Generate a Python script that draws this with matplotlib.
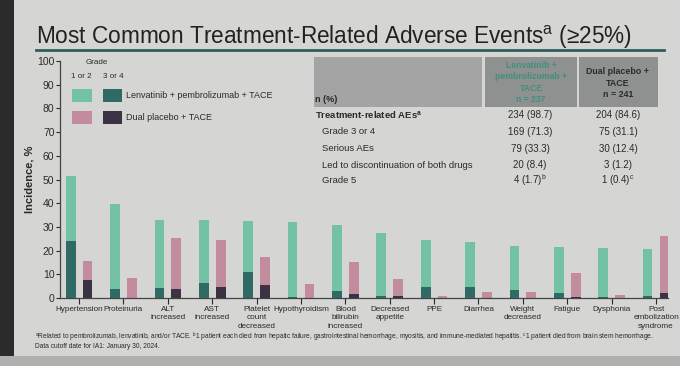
import matplotlib
matplotlib.use("Agg")
import matplotlib.pyplot as plt
import numpy as np
from matplotlib.patches import Rectangle

plt.rcParams['font.family'] = ['Liberation Sans', 'DejaVu Sans']

categories = ["Hypertension", "Proteinuria", "ALT\nincreased", "AST\nincreased",
              "Platelet\ncount\ndecreased", "Hypothyroidism", "Blood\nbilirubin\nincreased",
              "Decreased\nappetite", "PPE", "Diarrhea", "Weight\ndecreased", "Fatigue",
              "Dysphonia", "Post\nembolization\nsyndrome"]
lenv_any = [51.5, 39.5, 33.0, 33.0, 32.7, 32.0, 31.0, 27.6, 24.4, 23.8, 22.0, 21.5, 21.0, 20.5]
lenv_g34 = [24.0, 4.0, 4.4, 6.4, 10.8, 0.3, 3.0, 1.0, 4.5, 4.8, 3.4, 2.2, 0.3, 1.0]
pbo_any = [15.5, 8.5, 25.2, 24.5, 17.2, 5.8, 15.3, 8.2, 1.0, 2.4, 2.7, 10.5, 1.1, 26.0]
pbo_g34 = [7.5, 0.0, 3.7, 4.8, 5.5, 0.0, 1.5, 0.8, 0.0, 0.0, 0.0, 0.5, 0.0, 2.0]

table_rows = ["Treatment-related AEs$^{\\mathregular{a}}$", "Grade 3 or 4", "Serious AEs",
              "Led to discontinuation of both drugs", "Grade 5"]
table_lenv = ["234 (98.7)", "169 (71.3)", "79 (33.3)", "20 (8.4)", "4 (1.7)$^{\\mathregular{b}}$"]
table_pbo = ["204 (84.6)", "75 (31.1)", "30 (12.4)", "3 (1.2)", "1 (0.4)$^{\\mathregular{c}}$"]
yticks = [0, 10, 20, 30, 40, 50, 60, 70, 80, 90, 100]

c_lg = "#74c2a4"
c_dg = "#2f6a64"
c_lp = "#c38c9e"
c_dp = "#3b3244"
txt = "#2a2a2a"

W, H = 680, 366
fig = plt.figure(figsize=(6.8, 3.66), dpi=100, facecolor="#d5d5d3")

def fx(x):
    return x / W

def fy(y):
    return 1 - y / H

# photo edges
fig.patches.append(Rectangle((0, 0), fx(14), 1, transform=fig.transFigure,
                             facecolor="#2b2b2b", edgecolor="none", zorder=0))
fig.patches.append(Rectangle((0, 0), 1, 10 / H, transform=fig.transFigure,
                             facecolor="#b0b0ae", edgecolor="none", zorder=0))

# title
fig.text(fx(36), fy(37), "Most Common Treatment-Related Adverse Events$^{\\mathregular{a}}$ (≥25%)",
         fontsize=16.3, color="#222222", va="center", ha="left")
fig.add_artist(plt.Line2D([fx(36), fx(664)], [fy(50), fy(50)], transform=fig.transFigure,
                          color="#2f5f5a", lw=2))

ax = fig.add_axes([fx(60), fy(298), fx(608), (298 - 61) / H])
ax.set_facecolor("none")
x = np.arange(len(categories))
off, bw = 0.19, 0.22
ax.bar(x - off, lenv_any, bw, color=c_lg, zorder=2)
ax.bar(x - off, lenv_g34, bw, color=c_dg, zorder=3)
ax.bar(x + off, pbo_any, bw, color=c_lp, zorder=2)
ax.bar(x + off, pbo_g34, bw, color=c_dp, zorder=3)

ax.set_xlim(-0.43, 13.27)
ax.set_ylim(0, 100)
ax.set_yticks(yticks)
ax.set_xticks(x)
ax.set_xticklabels(categories, fontsize=5.9, color=txt, linespacing=1.3)
ax.tick_params(axis="y", labelsize=7.5, colors=txt, length=3, width=0.8, pad=1)
ax.tick_params(axis="x", length=4, width=0.8, colors=txt, pad=1.5)
for s in ["top", "right"]:
    ax.spines[s].set_visible(False)
for s in ["left", "bottom"]:
    ax.spines[s].set_color("#444444")
    ax.spines[s].set_linewidth(0.9)
ax.set_ylabel("Incidence, %", fontsize=8, fontweight="bold", color=txt, labelpad=2)

# legend
fig.text(fx(97), fy(63), "Grade", fontsize=5.8, color=txt, ha="center", va="center")
fig.text(fx(81), fy(76), "1 or 2", fontsize=5.8, color=txt, ha="center", va="center")
fig.text(fx(113), fy(76), "3 or 4", fontsize=5.8, color=txt, ha="center", va="center")
for yy, c1, c2, lab in [(96, c_lg, c_dg, "Lenvatinib + pembrolizumab + TACE"),
                        (118, c_lp, c_dp, "Dual placebo + TACE")]:
    fig.patches.append(Rectangle((fx(72), fy(yy + 6)), fx(20), 13 / H, transform=fig.transFigure,
                                 facecolor=c1, edgecolor="none"))
    fig.patches.append(Rectangle((fx(103), fy(yy + 6)), fx(19), 13 / H, transform=fig.transFigure,
                                 facecolor=c2, edgecolor="none"))
    fig.text(fx(126), fy(yy), lab, fontsize=6.5, color=txt, ha="left", va="center")

# table header
fig.patches.append(Rectangle((fx(314), fy(107)), fx(168), 50 / H, transform=fig.transFigure,
                             facecolor="#a3a4a3", edgecolor="none"))
fig.patches.append(Rectangle((fx(485), fy(107)), fx(92), 50 / H, transform=fig.transFigure,
                             facecolor="#8f9190", edgecolor="none"))
fig.patches.append(Rectangle((fx(579), fy(107)), fx(79), 50 / H, transform=fig.transFigure,
                             facecolor="#8f9190", edgecolor="none"))
fig.text(fx(315), fy(99), "n (%)", fontsize=6.5, fontweight="bold", color=txt, va="center")
fig.text(fx(531), fy(82.5), "Lenvatinib +\npembrolizumab +\nTACE\nn = 237", fontsize=6.2,
         fontweight="bold", color="#3f8f7e", ha="center", va="center", linespacing=1.3)
fig.text(fx(618), fy(83), "Dual placebo +\nTACE\nn = 241", fontsize=6.4,
         fontweight="bold", color="#2b2b2b", ha="center", va="center", linespacing=1.3)

row_y = [115, 132, 148.5, 165.5, 180.5]
for i, (r, a, b) in enumerate(zip(table_rows, table_lenv, table_pbo)):
    fig.text(fx(315 if i == 0 else 322), fy(row_y[i]), r, fontsize=6.8,
             fontweight="bold" if i == 0 else "normal", color=txt, va="center")
    fig.text(fx(530), fy(row_y[i]), a, fontsize=7, color=txt, ha="center", va="center")
    fig.text(fx(618), fy(row_y[i]), b, fontsize=7, color=txt, ha="center", va="center")

# footnotes
fig.text(fx(35), fy(337),
         "$^{\\mathregular{a}}$Related to pembrolizumab, lenvatinib, and/or TACE. "
         "$^{\\mathregular{b}}$1 patient each died from hepatic failure, gastrointestinal hemorrhage, "
         "myositis, and immune-mediated hepatitis. $^{\\mathregular{c}}$1 patient died from brain stem hemorrhage.",
         fontsize=4.8, color=txt, va="center")
fig.text(fx(35), fy(347), "Data cutoff date for IA1: January 30, 2024.",
         fontsize=4.8, color=txt, va="center")

fig.savefig("out.png", dpi=100, facecolor=fig.get_facecolor())
